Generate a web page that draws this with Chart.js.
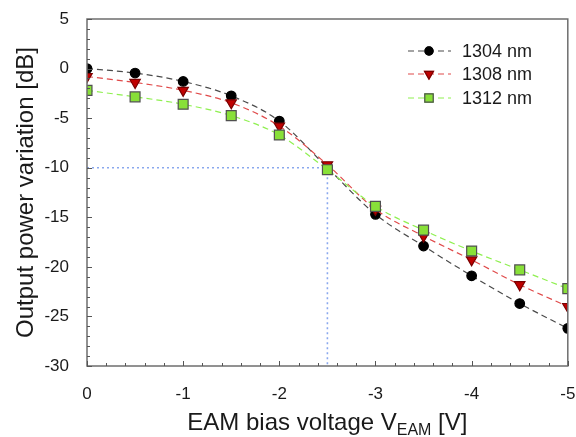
<!DOCTYPE html>
<html>
<head>
<meta charset="utf-8">
<script src="https://cdn.jsdelivr.net/npm/chart.js@4/dist/chart.umd.min.js"></script>
<style>
  html, body { margin: 0; padding: 0; background: #fff; }
  #wrap { width: 576px; height: 437px; position: relative; }
</style>
</head>
<body>
<div id="wrap"><canvas id="powerChart"></canvas></div>
<script>
const biasVoltage = [0, -0.5, -1, -1.5, -2, -2.5, -3, -3.5, -4, -4.5, -5];
const power1304 = [0, -0.45, -1.3, -2.75, -5.3, -10.0, -14.7, -17.9, -20.9, -23.7, -26.2];
const power1308 = [-0.8, -1.4, -2.2, -3.45, -5.8, -9.7, -14.2, -16.9, -19.3, -21.8, -24.0];
const power1312 = [-2.2, -2.85, -3.6, -4.75, -6.7, -10.2, -13.9, -16.3, -18.4, -20.3, -22.2];
const guideX = [0, -2.5, -2.5];
const guideY = [-10, -10, -30];
const seriesNames = ["1304 nm", "1308 nm", "1312 nm"];

const FONT = "'Liberation Sans', Arial, sans-serif";
const toPoints = (xs, ys) => xs.map((x, i) => ({ x: x, y: ys[i] }));

const series = [
  { name: seriesNames[0], values: power1304, line: "#4a4a4a", fill: "#000000", edge: "#000000", style: "circle", radius: 4.8, rotation: 0, order: 3 },
  { name: seriesNames[1], values: power1308, line: "#e04a4a", fill: "#c00000", edge: "#7a0000", style: "triangle", radius: 6, rotation: 180, order: 2 },
  { name: seriesNames[2], values: power1312, line: "#8ff050", fill: "#88e038", edge: "#505050", style: "rect", radius: 7, rotation: 0, order: 1 },
];

const datasets = series.map((s) => ({
  label: s.name,
  data: toPoints(biasVoltage, s.values),
  borderColor: s.line,
  borderWidth: 1.2,
  borderDash: [6, 4],
  cubicInterpolationMode: "monotone",
  pointStyle: s.style,
  pointRadius: s.radius,
  pointRotation: s.rotation,
  pointBackgroundColor: s.fill,
  pointBorderColor: s.edge,
  pointBorderWidth: 1.2,
  order: s.order,
}));

datasets.push({
  label: "guide",
  data: toPoints(guideX, guideY),
  borderColor: "#8aa8ee",
  borderWidth: 1.6,
  borderDash: [2, 3],
  pointRadius: 0,
  tension: 0,
  order: 4,
});

// box, inward ticks, axis titles and legend
const decorPlugin = {
  id: "decor",
  afterDraw(chart) {
    const c = chart.ctx;
    const a = chart.chartArea;
    const xs = chart.scales.x;
    const ys = chart.scales.y;
    c.save();

    c.strokeStyle = "#6e6e6e";
    c.lineWidth = 1.5;
    c.strokeRect(a.left, a.top, a.right - a.left, a.bottom - a.top);

    c.lineWidth = 1;
    c.strokeStyle = "#555";
    c.beginPath();
    for (let v = -30; v <= 5; v++) {
      const py = Math.round(ys.getPixelForValue(v)) + 0.5;
      const len = v % 5 === 0 ? 5 : 3;
      c.moveTo(a.left, py);
      c.lineTo(a.left + len, py);
    }
    for (let i = 0; i <= 25; i++) {
      const px = Math.round(xs.getPixelForValue(-i / 5)) + 0.5;
      const len = i % 5 === 0 ? 5 : 3;
      c.moveTo(px, a.bottom);
      c.lineTo(px, a.bottom - len);
    }
    c.stroke();

    // y title
    c.fillStyle = "#1a1a1a";
    c.font = "24px " + FONT;
    c.textAlign = "center";
    c.textBaseline = "middle";
    c.save();
    c.translate(26, (a.top + a.bottom) / 2);
    c.rotate(-Math.PI / 2);
    c.fillText("Output power variation [dB]", 0, 0);
    c.restore();

    // x title with subscript
    const partA = "EAM bias voltage V";
    const partSub = "EAM";
    const partB = " [V]";
    c.textAlign = "left";
    c.textBaseline = "alphabetic";
    c.font = "24px " + FONT;
    const wA = c.measureText(partA).width;
    const wB = c.measureText(partB).width;
    c.font = "16px " + FONT;
    const wS = c.measureText(partSub).width;
    let tx = (a.left + a.right) / 2 - (wA + wS + wB) / 2;
    const base = 430;
    c.font = "24px " + FONT;
    c.fillText(partA, tx, base);
    tx += wA;
    c.font = "16px " + FONT;
    c.fillText(partSub, tx, base + 5);
    tx += wS;
    c.font = "24px " + FONT;
    c.fillText(partB, tx, base);

    // legend
    const rows = [51, 74, 98];
    series.forEach((s, i) => {
      const y = rows[i];
      c.strokeStyle = s.line;
      c.lineWidth = 1.2;
      c.setLineDash([6, 4]);
      c.beginPath();
      c.moveTo(408, y);
      c.lineTo(451, y);
      c.stroke();
      c.setLineDash([]);
      Chart.helpers.drawPoint(c, {
        pointStyle: s.style,
        radius: s.radius * 0.85,
        rotation: s.rotation,
        borderWidth: 1,
      }, 429, y);
      c.fillStyle = s.fill;
      c.strokeStyle = s.edge;
      c.fill();
      c.stroke();
      c.fillStyle = "#1a1a1a";
      c.font = "18px " + FONT;
      c.textAlign = "left";
      c.textBaseline = "middle";
      c.fillText(s.name, 462, y + 1);
    });

    c.restore();
  },
};

const ctx = document.getElementById("powerChart");
new Chart(ctx, {
  type: "line",
  data: { datasets: datasets },
  options: {
    responsive: true,
    maintainAspectRatio: false,
    animation: false,
    layout: { padding: { top: 19, right: 7, left: 0, bottom: 0 } },
    plugins: {
      legend: { display: false },
      tooltip: { enabled: false },
    },
    scales: {
      x: {
        type: "linear",
        min: -5,
        max: 0,
        reverse: true,
        grid: { display: false },
        border: { display: false },
        ticks: { stepSize: 1, color: "#1a1a1a", font: { size: 17, family: FONT }, padding: 10, maxRotation: 0 },
        afterFit: (s) => { s.height = 71; s.paddingRight = 0; s.paddingLeft = 0; },
      },
      y: {
        type: "linear",
        min: -30,
        max: 5,
        grid: { display: false },
        border: { display: false },
        ticks: { stepSize: 5, color: "#1a1a1a", font: { size: 17, family: FONT }, padding: 10 },
        afterFit: (s) => { s.width = 87; s.paddingTop = 0; s.paddingBottom = 0; },
      },
    },
  },
  plugins: [decorPlugin],
});
</script>
</body>
</html>
